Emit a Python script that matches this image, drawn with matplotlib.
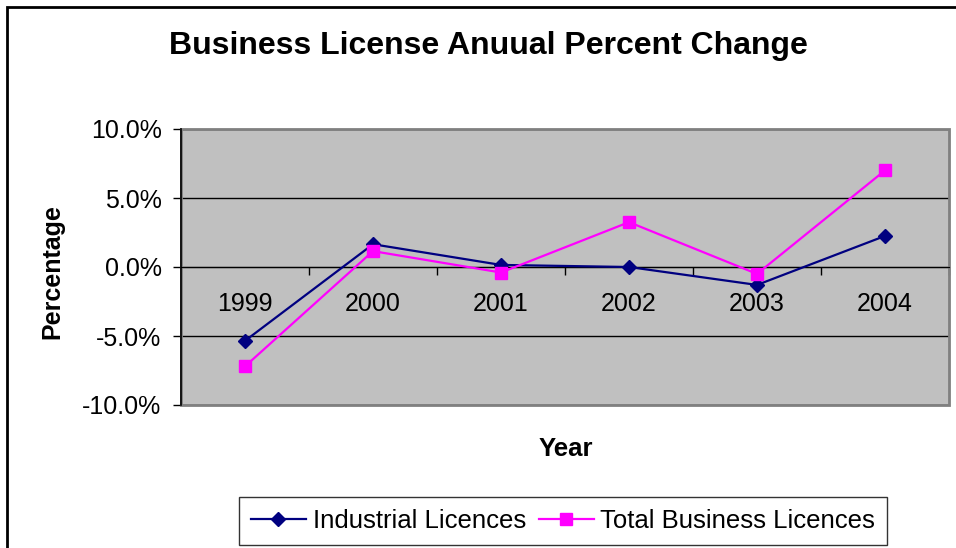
import matplotlib.pyplot as plt
from matplotlib.patches import Rectangle
from matplotlib.ticker import FixedLocator, NullFormatter, FuncFormatter

years = ["1999", "2000", "2001", "2002", "2003", "2004"]
industrial = [-5.35, 1.65, 0.15, 0.0, -1.3, 2.25]
total_business = [-7.2, 1.15, -0.4, 3.25, -0.5, 7.0]
y_ticks = [-10, -5, 0, 5, 10]

plt.rcParams['font.family'] = ['Liberation Sans', 'DejaVu Sans']

W, H = 956, 548
fig = plt.figure(figsize=(W / 100, H / 100), dpi=100)

# outer chart frame (cropped on the right and bottom)
fig.patches.append(Rectangle((7 / W, -0.1), 1.2, 1.1 - 7 / H, transform=fig.transFigure,
                             fill=False, ec='black', lw=2))

ax = fig.add_axes([181 / W, 1 - 405 / H, (949 - 181) / W, (405 - 129) / H])
ax.set_facecolor('#C0C0C0')

x = list(range(len(years)))
ax.plot(x, industrial, color='#000080', lw=1.6, marker='D', ms=7.5, zorder=4,
        label='Industrial Licences')
ax.plot(x, total_business, color='#FF00FF', lw=1.6, marker='s', ms=8, zorder=4,
        label='Total Business Licences')

ax.set_xlim(-0.5, len(years) - 0.5)
ax.set_ylim(-10, 10)
ax.set_yticks(y_ticks)
ax.yaxis.set_major_formatter(FuncFormatter(lambda v, p: f"{v:.1f}%"))
ax.tick_params(axis='y', direction='out', length=6, width=1, labelsize=18, pad=8)
ax.grid(axis='y', color='black', lw=1)
ax.set_axisbelow(True)

# category axis sits on the zero line
ax.spines['bottom'].set_position(('data', 0))
ax.spines['bottom'].set_color('black')
ax.spines['left'].set_color('black')
ax.spines['left'].set_linewidth(1.2)
for s in ['top', 'right']:
    ax.spines[s].set_visible(False)
ax.xaxis.set_major_locator(FixedLocator([i + 0.5 for i in x]))
ax.xaxis.set_major_formatter(NullFormatter())
ax.set_xticks(x, minor=True)
ax.set_xticklabels(years, minor=True)
ax.tick_params(axis='x', which='major', direction='out', length=6, width=1)
ax.tick_params(axis='x', which='minor', length=0, labelsize=18, pad=18)

ax.add_patch(Rectangle((0, 0), 1, 1, transform=ax.transAxes, fill=False,
                       ec='#808080', lw=2, clip_on=False, zorder=2.4))

fig.text(488 / W, 1 - 46 / H, "Business License Anuual Percent Change",
         ha='center', va='center', fontsize=23, fontweight='bold')
fig.text(52 / W, 1 - 272 / H, "Percentage", rotation=90, ha='center', va='center',
         fontsize=18, fontweight='bold')
fig.text(566 / W, 1 - 449 / H, "Year", ha='center', va='center',
         fontsize=18.5, fontweight='bold')

leg = fig.legend(loc='center', bbox_to_anchor=(563 / W, 1 - 521 / H), ncol=2,
                 fontsize=18.5, frameon=True, fancybox=False, edgecolor='black',
                 handlelength=2.15, handletextpad=0.25, columnspacing=0.5,
                 borderpad=0.45, borderaxespad=0)
leg.get_frame().set_linewidth(1)

fig.savefig('out.png', dpi=100)
